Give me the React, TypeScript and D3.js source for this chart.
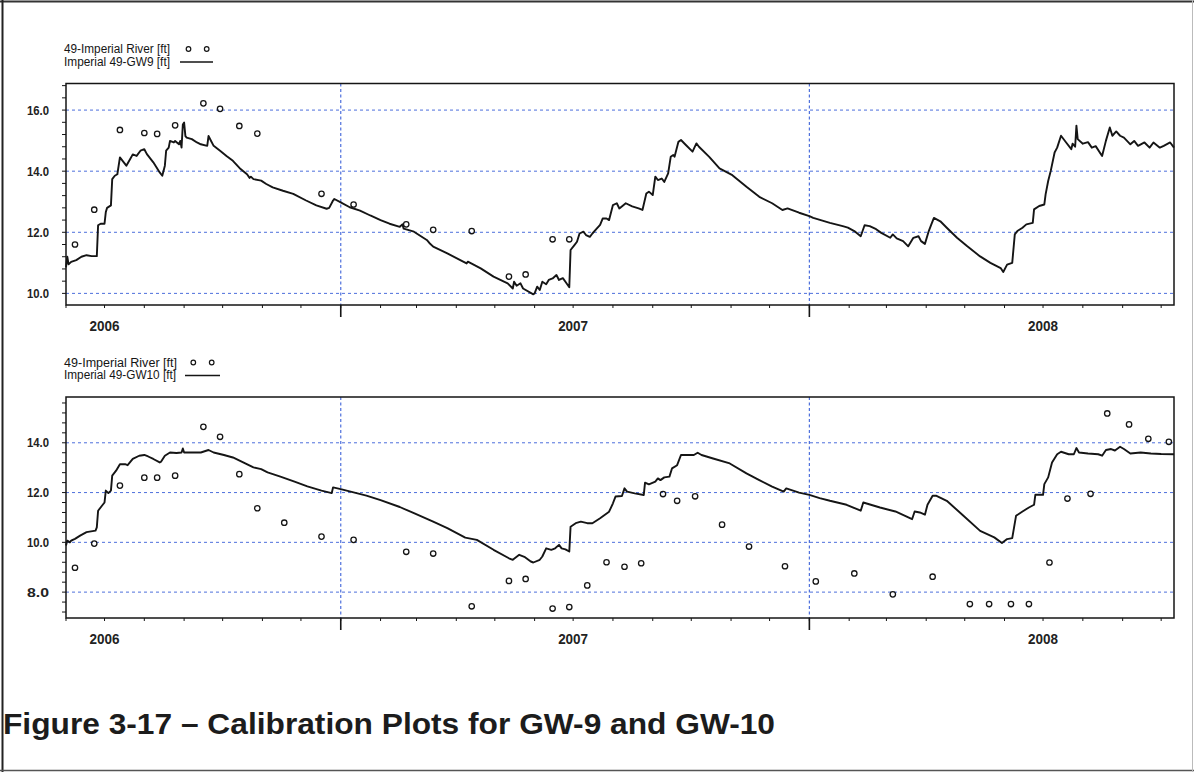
import React from "react";
import * as d3 from "d3";

// ---------- data ----------
const yearLabels = ["2006", "2007", "2008"];

const gw9Dates = ["2006-06-01","2006-06-02","2006-06-03","2006-06-05","2006-06-09","2006-06-13","2006-06-17","2006-06-21","2006-06-25","2006-06-26","2006-06-28","2006-07-01","2006-07-02","2006-07-03","2006-07-06","2006-07-07","2006-07-09","2006-07-11","2006-07-13","2006-07-16","2006-07-18","2006-07-21","2006-07-23","2006-07-26","2006-07-29","2006-08-01","2006-08-03","2006-08-08","2006-08-13","2006-08-15","2006-08-17","2006-08-18","2006-08-20","2006-08-21","2006-08-24","2006-08-25","2006-08-28","2006-08-29","2006-08-30","2006-08-31","2006-09-01","2006-09-02","2006-09-03","2006-09-07","2006-09-11","2006-09-14","2006-09-19","2006-09-20","2006-09-22","2006-09-24","2006-09-29","2006-10-04","2006-10-09","2006-10-15","2006-10-20","2006-10-22","2006-10-23","2006-10-25","2006-10-31","2006-11-04","2006-11-09","2006-11-17","2006-11-25","2006-12-05","2006-12-13","2006-12-21","2006-12-23","2006-12-26","2006-12-27","2007-01-01","2007-01-08","2007-01-16","2007-01-24","2007-02-01","2007-02-08","2007-02-16","2007-02-18","2007-02-19","2007-02-27","2007-03-09","2007-03-11","2007-03-14","2007-03-25","2007-04-09","2007-04-10","2007-04-20","2007-04-30","2007-05-11","2007-05-15","2007-05-16","2007-05-18","2007-05-21","2007-05-23","2007-05-31","2007-06-01","2007-06-03","2007-06-05","2007-06-07","2007-06-10","2007-06-12","2007-06-15","2007-06-18","2007-06-20","2007-06-23","2007-06-25","2007-06-28","2007-06-29","2007-07-02","2007-07-04","2007-07-06","2007-07-09","2007-07-11","2007-07-14","2007-07-16","2007-07-19","2007-07-22","2007-07-24","2007-07-27","2007-07-29","2007-08-01","2007-08-04","2007-08-06","2007-08-11","2007-08-16","2007-08-21","2007-08-24","2007-08-27","2007-08-29","2007-09-01","2007-09-03","2007-09-05","2007-09-08","2007-09-10","2007-09-13","2007-09-15","2007-09-17","2007-09-18","2007-09-21","2007-09-23","2007-09-27","2007-10-02","2007-10-05","2007-10-07","2007-10-15","2007-10-23","2007-11-02","2007-11-13","2007-11-23","2007-12-03","2007-12-11","2007-12-15","2007-12-24","2008-01-01","2008-01-04","2008-01-17","2008-01-27","2008-01-31","2008-02-05","2008-02-10","2008-02-13","2008-02-17","2008-02-22","2008-02-26","2008-03-04","2008-03-06","2008-03-09","2008-03-14","2008-03-18","2008-03-22","2008-03-26","2008-03-28","2008-03-31","2008-04-03","2008-04-05","2008-04-07","2008-04-12","2008-04-17","2008-04-25","2008-05-03","2008-05-13","2008-05-21","2008-05-29","2008-05-31","2008-06-03","2008-06-07","2008-06-09","2008-06-11","2008-06-15","2008-06-18","2008-06-23","2008-06-24","2008-06-28","2008-07-02","2008-07-03","2008-07-05","2008-07-07","2008-07-10","2008-07-12","2008-07-15","2008-07-19","2008-07-23","2008-07-24","2008-07-26","2008-07-27","2008-07-28","2008-08-01","2008-08-05","2008-08-08","2008-08-11","2008-08-16","2008-08-19","2008-08-22","2008-08-24","2008-08-27","2008-08-30","2008-09-02","2008-09-07","2008-09-10","2008-09-13","2008-09-18","2008-09-22","2008-09-25","2008-09-30","2008-10-03","2008-10-08","2008-10-11"];
const gw9Values = [10.85,11.2,10.95,11.03,11.09,11.2,11.25,11.22,11.22,12.23,12.28,12.28,12.66,12.8,12.88,13.74,13.85,13.9,14.45,14.29,14.18,14.4,14.55,14.5,14.67,14.72,14.56,14.29,13.96,13.85,14.18,14.67,14.77,14.99,14.94,14.99,14.88,14.99,14.77,15.53,15.59,15.15,15.1,15.05,14.94,14.88,14.83,15.15,14.99,14.83,14.67,14.5,14.34,14.07,13.9,13.78,13.82,13.74,13.69,13.58,13.47,13.36,13.26,13.04,12.88,12.77,12.8,13.04,13.09,12.98,12.82,12.71,12.55,12.4,12.28,12.18,12.26,12.12,12.02,11.75,11.65,11.53,11.31,10.98,11.04,10.82,10.55,10.33,10.16,10.38,10.25,10.33,10.16,9.97,10.0,10.22,10.11,10.38,10.3,10.44,10.49,10.6,10.44,10.5,10.38,10.2,11.42,11.58,11.69,11.96,12.02,11.91,11.85,11.96,12.1,12.24,12.45,12.45,12.4,12.89,12.95,12.78,12.95,12.85,12.78,12.73,13.27,13.33,13.22,13.82,13.71,13.76,13.65,13.93,14.47,14.53,14.47,14.96,15.02,14.85,14.64,14.91,14.8,14.47,14.09,13.87,13.49,13.16,12.95,12.73,12.78,12.64,12.53,12.47,12.31,12.2,12.15,12.04,11.87,12.23,12.2,12.1,11.98,11.82,11.93,11.8,11.71,11.54,11.82,11.87,11.71,11.62,12.04,12.26,12.47,12.36,12.15,11.82,11.54,11.21,11.0,10.83,10.7,10.94,11.0,11.93,12.04,12.15,12.26,12.31,12.75,12.86,12.91,13.24,13.68,14.01,14.61,14.77,15.16,14.94,14.72,14.9,14.8,15.49,15.05,14.9,14.95,14.77,14.82,14.5,15.0,15.43,15.16,15.3,15.16,15.1,14.88,14.99,14.83,14.94,14.77,14.94,14.77,14.83,14.94,14.77];

const river9Dates = ["2006-06-08","2006-06-23","2006-07-13","2006-08-01","2006-08-11","2006-08-25","2006-09-16","2006-09-29","2006-10-14","2006-10-28","2006-12-17","2007-01-11","2007-02-21","2007-03-14","2007-04-13","2007-05-12","2007-05-25","2007-06-15","2007-06-28"];
const river9Values = [11.6,12.74,15.35,15.25,15.22,15.5,16.22,16.04,15.48,15.23,13.26,12.91,12.26,12.08,12.04,10.55,10.62,11.77,11.77];

const gw10Dates = ["2006-06-01","2006-06-02","2006-06-04","2006-06-05","2006-06-08","2006-06-12","2006-06-17","2006-06-24","2006-06-25","2006-06-26","2006-06-29","2006-07-01","2006-07-02","2006-07-04","2006-07-06","2006-07-07","2006-07-10","2006-07-13","2006-07-17","2006-07-19","2006-07-23","2006-07-28","2006-08-01","2006-08-04","2006-08-08","2006-08-13","2006-08-14","2006-08-17","2006-08-21","2006-08-26","2006-08-30","2006-08-31","2006-09-01","2006-09-08","2006-09-14","2006-09-20","2006-09-24","2006-10-02","2006-10-09","2006-10-17","2006-10-25","2006-10-31","2006-11-05","2006-11-15","2006-11-26","2006-12-06","2006-12-17","2006-12-25","2006-12-26","2007-01-01","2007-01-11","2007-01-21","2007-02-01","2007-02-16","2007-02-27","2007-03-14","2007-03-25","2007-04-08","2007-04-17","2007-04-30","2007-05-12","2007-05-15","2007-05-20","2007-05-24","2007-05-29","2007-05-31","2007-06-05","2007-06-07","2007-06-10","2007-06-14","2007-06-17","2007-06-20","2007-06-22","2007-06-25","2007-06-28","2007-06-29","2007-07-03","2007-07-07","2007-07-12","2007-07-16","2007-07-22","2007-07-29","2007-08-01","2007-08-03","2007-08-08","2007-08-10","2007-08-12","2007-08-18","2007-08-25","2007-08-26","2007-08-29","2007-09-03","2007-09-05","2007-09-07","2007-09-10","2007-09-14","2007-09-16","2007-09-20","2007-09-23","2007-09-27","2007-10-03","2007-10-06","2007-10-09","2007-10-18","2007-10-31","2007-11-13","2007-11-23","2007-12-03","2007-12-12","2007-12-14","2007-12-24","2008-01-01","2008-01-09","2008-01-17","2008-01-30","2008-02-10","2008-02-12","2008-02-25","2008-03-08","2008-03-21","2008-03-23","2008-03-27","2008-03-31","2008-04-02","2008-04-06","2008-04-09","2008-04-17","2008-04-30","2008-05-13","2008-05-24","2008-05-30","2008-06-03","2008-06-07","2008-06-10","2008-06-15","2008-06-20","2008-06-24","2008-06-25","2008-07-01","2008-07-02","2008-07-05","2008-07-08","2008-07-12","2008-07-15","2008-07-21","2008-07-25","2008-07-27","2008-07-29","2008-08-05","2008-08-13","2008-08-16","2008-08-19","2008-08-23","2008-08-26","2008-08-30","2008-09-02","2008-09-07","2008-09-15","2008-09-23","2008-10-01","2008-10-11"];
const gw10Values = [9.87,10.07,10.0,10.07,10.14,10.27,10.41,10.47,10.6,11.27,11.47,11.6,12.08,11.98,12.08,12.68,12.88,13.14,13.14,13.1,13.35,13.48,13.51,13.45,13.35,13.21,13.24,13.48,13.61,13.59,13.61,13.77,13.61,13.61,13.61,13.71,13.61,13.51,13.41,13.21,13.01,12.94,12.81,12.64,12.44,12.25,12.08,11.98,12.21,12.14,12.01,11.88,11.7,11.42,11.17,10.83,10.57,10.19,10.1,9.7,9.36,9.3,9.5,9.42,9.23,9.19,9.3,9.43,9.76,9.7,9.76,9.9,9.76,9.72,9.63,10.63,10.77,10.83,10.77,10.77,10.97,11.23,11.57,11.84,11.86,12.17,12.04,11.97,11.9,12.4,12.33,12.44,12.57,12.5,12.61,12.64,12.97,13.1,13.51,13.51,13.51,13.6,13.51,13.37,13.17,12.77,12.5,12.24,12.04,12.17,12.0,11.91,11.78,11.67,11.51,11.27,11.6,11.4,11.24,10.93,11.24,11.2,11.11,11.51,11.87,11.87,11.67,11.07,10.46,10.2,9.97,10.13,10.17,11.07,11.24,11.4,11.51,11.91,11.91,12.34,12.61,13.21,13.54,13.64,13.54,13.54,13.79,13.61,13.57,13.54,13.48,13.71,13.75,13.69,13.84,13.75,13.57,13.61,13.57,13.55,13.54];

const river10Dates = ["2006-06-08","2006-06-23","2006-07-13","2006-08-01","2006-08-11","2006-08-25","2006-09-16","2006-09-29","2006-10-14","2006-10-28","2006-11-18","2006-12-17","2007-01-11","2007-02-21","2007-03-14","2007-04-13","2007-05-12","2007-05-25","2007-06-15","2007-06-28","2007-07-12","2007-07-27","2007-08-10","2007-08-23","2007-09-09","2007-09-20","2007-10-04","2007-10-25","2007-11-15","2007-12-13","2008-01-06","2008-02-05","2008-03-06","2008-04-06","2008-05-05","2008-05-20","2008-06-06","2008-06-20","2008-07-06","2008-07-20","2008-08-07","2008-08-20","2008-09-06","2008-09-21","2008-10-07"];
const river10Values = [8.98,9.95,12.28,12.6,12.6,12.68,14.64,14.24,12.74,11.37,10.79,10.23,10.1,9.62,9.55,7.43,8.45,8.53,7.34,7.4,8.27,9.2,9.02,9.16,11.94,11.67,11.85,10.71,9.83,9.04,8.43,8.75,7.91,8.62,7.52,7.52,7.52,7.52,9.19,11.76,11.95,15.18,14.74,14.16,14.04];

const yTicks9 = [10, 12, 14, 16];
const yTicks10 = [8, 10, 12, 14];

const legend9 = ["49-Imperial River [ft]", "Imperial 49-GW9 [ft]"];
const legend10 = ["49-Imperial River   [ft]", "Imperial 49-GW10 [ft]"];
const titleText = "Figure 3-17 \u2013 Calibration Plots for GW-9 and GW-10";

// ---------- layout ----------
const W = 1194, H = 772;
const parse = d3.timeParse("%Y-%m-%d");
const xStart = parse("2006-06-01")!;
const xEnd = parse("2008-10-11")!;
const x = d3.scaleTime().domain([xStart, xEnd]).range([66, 1174]);

const FONT = "'Liberation Sans', Arial, Helvetica, sans-serif";
const GRID = "#4d6fdc";
const INK = "#151515";

type PanelProps = {
  top: number; bottom: number; domain: [number, number]; yTicks: number[];
  lineDates: string[]; lineValues: number[]; ptDates: string[]; ptValues: number[];
  legend: string[]; legendY: number; legendW: [number, number];
  legendCircles: [number, number]; legendLine: [number, number];
};

function Panel(p: PanelProps) {
  const y = d3.scaleLinear().domain(p.domain).range([p.bottom, p.top]);
  const left = x.range()[0], right = x.range()[1];
  const line = d3.line<[Date, number]>().x(d => x(d[0])).y(d => y(d[1]));
  const pts: [Date, number][] = p.lineDates.map((d, i) => [parse(d)!, p.lineValues[i]]);
  const minor = d3.range(Math.ceil(p.domain[0] / 0.4 - 1e-6), Math.floor(p.domain[1] / 0.4 + 1e-6) + 1).map(k => k * 0.4);
  const months = d3.timeMonth.range(xStart, d3.timeDay.offset(xEnd, 1));
  const years = d3.timeYear.range(xStart, xEnd);
  return (
    <g>
      {/* legend */}
      <text x={64} y={p.legendY} fontSize={12} fontFamily={FONT} fill={INK} textLength={p.legendW[0]} lengthAdjust="spacingAndGlyphs">{p.legend[0]}</text>
      <text x={64} y={p.legendY + 12.5} fontSize={12} fontFamily={FONT} fill={INK} textLength={p.legendW[1]} lengthAdjust="spacingAndGlyphs">{p.legend[1]}</text>
      {p.legendCircles.map((cx, i) => (
        <circle key={i} cx={cx} cy={p.legendY - 4} r={2.3} fill="none" stroke={INK} strokeWidth={1.2} />
      ))}
      <line x1={p.legendLine[0]} x2={p.legendLine[1]} y1={p.legendY + 9} y2={p.legendY + 9} stroke={INK} strokeWidth={1.3} />

      {/* gridlines */}
      {p.yTicks.map(v => (
        <line key={"g" + v} x1={left} x2={right} y1={y(v)} y2={y(v)} stroke={GRID} strokeWidth={1} strokeDasharray="3,3" />
      ))}
      {years.map(d => (
        <line key={"v" + d.getTime()} x1={x(d)} x2={x(d)} y1={p.top} y2={p.bottom} stroke={GRID} strokeWidth={1.2} strokeDasharray="3,2.5" />
      ))}

      {/* y ticks */}
      {minor.map(v => (
        <line key={"m" + v} x1={left - 4} x2={left} y1={y(v)} y2={y(v)} stroke={INK} strokeWidth={1} />
      ))}
      {p.yTicks.map(v => (
        <text key={"t" + v} x={49} y={y(v)} dy="0.36em" textAnchor="end" fontSize={13} fontWeight="bold" fontFamily={FONT} fill="#222" textLength={22} lengthAdjust="spacingAndGlyphs">{v.toFixed(1)}</text>
      ))}

      {/* x ticks */}
      {months.map(d => (
        <line key={"x" + d.getTime()} x1={x(d)} x2={x(d)} y1={p.bottom} y2={p.bottom + 3} stroke={INK} strokeWidth={1} />
      ))}
      {years.map(d => (
        <line key={"X" + d.getTime()} x1={x(d)} x2={x(d)} y1={p.bottom} y2={p.bottom + 12} stroke={INK} strokeWidth={1.6} />
      ))}
      {yearLabels.map(lbl => (
        <text key={"l" + lbl} x={x(parse(lbl + "-07-01")!)} y={p.bottom + 25.5} textAnchor="middle" fontSize={15} fontWeight="bold" fontFamily={FONT} fill="#222" textLength={30} lengthAdjust="spacingAndGlyphs">{lbl}</text>
      ))}

      {/* series */}
      <path d={line(pts) || ""} fill="none" stroke={INK} strokeWidth={1.9} strokeLinejoin="round" />
      {p.ptDates.map((d, i) => (
        <circle key={"c" + i} cx={x(parse(d)!)} cy={y(p.ptValues[i])} r={2.7} fill="none" stroke={INK} strokeWidth={1.3} />
      ))}

      {/* frame */}
      <rect x={left} y={p.top} width={right - left} height={p.bottom - p.top} fill="none" stroke={INK} strokeWidth={1.5} />
    </g>
  );
}

export default function App() {
  return (
    <svg width={W} height={H} viewBox={`0 0 ${W} ${H}`} style={{ position: "absolute", left: 0, top: 0, display: "block", background: "#fff" }}>
      <rect x={0} y={0} width={W} height={H} fill="#fff" />
      {/* page border */}
      <line x1={0} x2={W} y1={1.5} y2={1.5} stroke="#333" strokeWidth={2} />
      <line x1={2.5} x2={2.5} y1={0} y2={H} stroke="#222" strokeWidth={2} />
      <line x1={0} x2={W} y1={770.5} y2={770.5} stroke="#555" strokeWidth={1.5} />
      <line x1={1192.5} x2={1192.5} y1={0} y2={H} stroke="#bbb" strokeWidth={1} />

      <Panel top={83.5} bottom={305} domain={[9.62, 16.87]} yTicks={yTicks9}
        lineDates={gw9Dates} lineValues={gw9Values} ptDates={river9Dates} ptValues={river9Values}
        legend={legend9} legendY={53} legendW={[106, 106]} legendCircles={[188.5, 206.7]} legendLine={[180, 213]} />
      <Panel top={397} bottom={618} domain={[6.96, 15.84]} yTicks={yTicks10}
        lineDates={gw10Dates} lineValues={gw10Values} ptDates={river10Dates} ptValues={river10Values}
        legend={legend10} legendY={366.5} legendW={[113, 112]} legendCircles={[193.3, 211.7]} legendLine={[185, 220]} />

      <text x={3} y={734} fontSize={30} fontWeight="bold" fontFamily={FONT} fill="#1c1c1c" textLength={772} lengthAdjust="spacingAndGlyphs">{titleText}</text>
    </svg>
  );
}
